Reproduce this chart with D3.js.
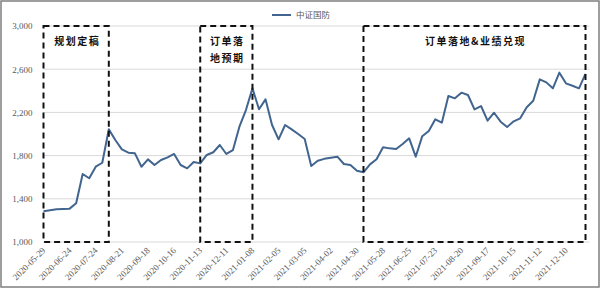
<!DOCTYPE html>
<html>
<head>
<meta charset="utf-8">
<script src="https://cdn.jsdelivr.net/npm/d3@7"></script>
<style>
  body { margin: 0; background: #fff; }
  svg { display: block; }
</style>
</head>
<body>
<div id="chart"></div>
<script>
// Data
const X_LABELS = [
  "2020-05-29", "2020-06-24", "2020-07-24", "2020-08-21", "2020-09-18", "2020-10-16",
  "2020-11-13", "2020-12-11", "2021-01-08", "2021-02-05", "2021-03-05", "2021-04-02",
  "2021-04-30", "2021-05-28", "2021-06-25", "2021-07-23", "2021-08-20", "2021-09-17",
  "2021-10-15", "2021-11-12", "2021-12-10"
];
const LABEL_STEP = 4;
const SERIES_NAME = "中证国防";
const VALUES = [
  1285, 1295, 1303, 1306, 1309, 1358, 1630, 1590, 1697, 1734,
  2043, 1944, 1858, 1827, 1821, 1697, 1765, 1713, 1759, 1784,
  1815, 1713, 1682, 1741, 1728, 1806, 1831, 1898, 1815, 1850,
  2068, 2222, 2423, 2229, 2321, 2083, 1951, 2083, 2043, 2000,
  1954, 1704, 1753, 1770, 1781, 1790, 1722, 1713, 1660, 1645,
  1719, 1766, 1877, 1867, 1861, 1907, 1960, 1790, 1980, 2028,
  2136, 2105, 2352, 2330, 2383, 2361, 2228, 2259, 2123, 2197,
  2114, 2065, 2117, 2145, 2247, 2308, 2506, 2478, 2423, 2568,
  2469, 2447, 2423, 2556
];
const Y_TICKS = [1000, 1400, 1800, 2200, 2600, 3000];
// Phase boxes: start index, end index, label lines
const PHASES = [
  { from: 0, to: 10, lines: ["规划定稿"] },
  { from: 24, to: 32, lines: ["订单落", "地预期"] },
  { from: 49, to: 83, lines: ["订单落地&业绩兑现"] }
];

const W = 600, H = 288;
const PLOT = { left: 43.5, right: 585.5, top: 26, bottom: 242 };

const svg = d3.select("#chart").append("svg")
    .attr("width", W)
    .attr("height", H);

// Chart border
svg.append("rect")
    .attr("x", 1).attr("y", 1)
    .attr("width", W - 2).attr("height", H - 2)
    .attr("fill", "#fff")
    .attr("stroke", "#7f7f7f")
    .attr("stroke-width", 1.5);

const x = d3.scaleLinear()
    .domain([0, VALUES.length - 1])
    .range([PLOT.left, PLOT.right]);

const y = d3.scaleLinear()
    .domain([1000, 3000])
    .range([PLOT.bottom, PLOT.top]);

// Gridlines
svg.append("g")
    .selectAll("line")
    .data(Y_TICKS)
    .join("line")
    .attr("x1", PLOT.left)
    .attr("x2", PLOT.right + 4)
    .attr("y1", d => y(d))
    .attr("y2", d => y(d))
    .attr("stroke", "#d9d9d9")
    .attr("stroke-width", 1);

// Y axis labels
svg.append("g")
    .attr("transform", `translate(${PLOT.left - 11}, 0)`)
    .call(d3.axisLeft(y).tickValues(Y_TICKS).tickSize(0).tickFormat(d3.format(",")))
    .call(g => g.select(".domain").remove())
    .call(g => g.selectAll("text")
        .attr("x", 0)
        .attr("font-family", "'Liberation Serif', serif")
        .attr("font-size", 9)
        .attr("fill", "#595959"));

// X axis labels
const tickIdx = X_LABELS.map((_, i) => i * LABEL_STEP);
svg.append("g")
    .attr("transform", `translate(0, ${PLOT.bottom})`)
    .call(d3.axisBottom(x).tickValues(tickIdx).tickSize(0)
        .tickFormat((d, i) => X_LABELS[i]))
    .call(g => g.select(".domain").remove())
    .call(g => g.selectAll("text")
        .attr("font-family", "'Liberation Serif', serif")
        .attr("font-size", 9)
        .attr("fill", "#595959")
        .attr("text-anchor", "end")
        .attr("dy", 0)
        .attr("y", 0)
        .attr("transform", "translate(2, 9) rotate(-45)"));

// Line
const line = d3.line()
    .x((d, i) => x(i))
    .y(d => y(d));

svg.append("path")
    .datum(VALUES)
    .attr("fill", "none")
    .attr("stroke", "#41658f")
    .attr("stroke-width", 2)
    .attr("stroke-linejoin", "round")
    .attr("d", line);

// Phase boxes
const boxes = svg.append("g");
PHASES.forEach(p => {
    const x0 = x(p.from), x1 = x(p.to);
    boxes.append("rect")
        .attr("x", x0)
        .attr("y", y(3000))
        .attr("width", x1 - x0)
        .attr("height", y(1000) - y(3000))
        .attr("fill", "none")
        .attr("stroke", "#111")
        .attr("stroke-width", 2)
        .attr("stroke-dasharray", "6,4");

    boxes.selectAll(null)
        .data(p.lines)
        .join("text")
        .attr("x", (x0 + x1) / 2 + 1)
        .attr("y", (d, i) => y(3000) + 19 + i * 17)
        .attr("text-anchor", "middle")
        .attr("font-family", "'Noto Sans CJK SC', sans-serif")
        .attr("font-weight", 700)
        .attr("font-size", 10)
        .attr("letter-spacing", 1.5)
        .attr("fill", "#111")
        .text(d => d);
});

// Legend
const legend = svg.append("g").attr("transform", "translate(272, 15)");
legend.append("line")
    .attr("x1", 0).attr("x2", 19)
    .attr("stroke", "#41658f")
    .attr("stroke-width", 2);
legend.append("text")
    .attr("x", 24)
    .attr("y", 3)
    .attr("font-family", "'Noto Sans CJK SC', sans-serif")
    .attr("font-size", 8.5)
    .attr("fill", "#595959")
    .text(SERIES_NAME);
</script>
</body>
</html>
